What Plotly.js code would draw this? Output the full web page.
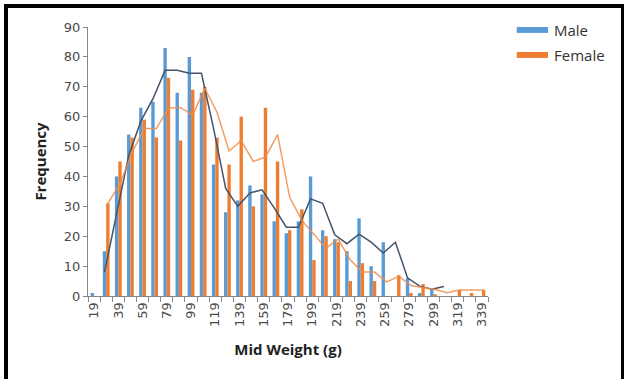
<!DOCTYPE html>
<html>
<head>
<meta charset="utf-8">
<script src="https://cdn.plot.ly/plotly-3.0.1.min.js"></script>
<style>
  html, body { margin: 0; padding: 0; background: #ffffff; }
  #chart { width: 627px; height: 379px; position: absolute; left: 0; top: 0; }
  #frame { position: absolute; left: 4px; top: 4px; width: 620px; height: 420px;
           box-sizing: border-box; border-left: 4px solid #000; border-top: 4px solid #000;
           border-right: 3px solid #000; pointer-events: none; }
</style>
</head>
<body>
<div id="chart"></div>
<div id="frame"></div>
<script>
// Mid weights (g)
const midWeights = [19,29,39,49,59,69,79,89,99,109,119,129,139,149,159,169,179,189,199,209,219,229,239,249,259,269,279,289,299,309,319,329,339];
// Frequencies
const maleFreq   = [1,15,40,54,63,65,83,68,80,68,44,28,32,37,34,25,21,25,40,22,19,15,26,10,18,null,6,1,2,null,null,null,null];
const femaleFreq = [null,31,45,53,59,53,73,52,69,70,53,44,60,30,63,45,22,29,12,20,18,5,11,5,null,7,1,4,0.6,null,2,1,2];
// Moving-average trend lines as drawn
const maleTrend   = [null,8,27.5,47,58.5,66,75.5,75.5,74.5,74.5,56,36,30,34.5,35.5,29.5,23,23,32.5,31,20.5,17.5,20.7,18,14.4,18,6.1,3.3,2.3,3.2,null,null,null];
const femaleTrend = [null,31,37.5,48,56,56,63,63,60.5,69.5,61.5,48.5,52,45,46.5,54,33,25.3,20.8,16,19,12,8,8,4.7,6.6,3.5,2.8,2.2,1.1,2,2,2];
// Axis tick labels
const tickLabels = [19,39,59,79,99,119,139,159,179,199,219,239,259,279,299,319,339];
const yTicks = [0,10,20,30,40,50,60,70,80,90];

const blue = '#5B9BD5', orange = '#ED7D31';
const step = 10, barOffset = 1.4;
const boundaries = midWeights.map(v => v - step/2).concat([midWeights[midWeights.length-1] + step/2]);

const traces = [
  { type: 'bar', name: 'Male', x: midWeights, y: maleFreq, marker: { color: blue }, showlegend: false, hoverinfo: 'x+y' },
  { type: 'bar', name: 'Female', x: midWeights, y: femaleFreq, marker: { color: orange }, showlegend: false, hoverinfo: 'x+y' },
  { type: 'scatter', mode: 'lines', x: midWeights.map(v => v - barOffset), y: maleTrend,
    line: { color: '#44546A', width: 1.5 }, connectgaps: false, showlegend: false },
  { type: 'scatter', mode: 'lines', x: midWeights.map(v => v + barOffset), y: femaleTrend,
    line: { color: 'rgba(240,140,70,0.85)', width: 1.5 }, connectgaps: false, showlegend: false },
  { type: 'scatter', mode: 'markers', x: [midWeights[0]], y: [0], xaxis: 'x2', yaxis: 'y',
    marker: { opacity: 0 }, showlegend: false, hoverinfo: 'skip' }
];

const xr = [boundaries[0], boundaries[boundaries.length-1]];
const layout = {
  width: 627, height: 379,
  margin: { l: 88, r: 139, t: 27, b: 83 },
  paper_bgcolor: '#ffffff', plot_bgcolor: '#ffffff',
  barmode: 'group', bargap: 0.44, bargroupgap: 0,
  showlegend: false,
  font: { family: 'DejaVu Sans', size: 13, color: '#4a4a4a' },
  xaxis: {
    range: xr, tickvals: tickLabels, ticktext: tickLabels.map(String),
    tickangle: -90, ticks: '', showgrid: false, zeroline: false,
    showline: true, linecolor: '#868686', linewidth: 1,
    tickfont: { family: 'DejaVu Sans', size: 13, color: '#4a4a4a' },
    title: { text: 'Mid Weight (g)', font: { family: 'Open Sans', size: 15, color: '#222', weight: 'bold' }, standoff: 18 }
  },
  xaxis2: {
    overlaying: 'x', anchor: 'y', side: 'bottom', range: xr,
    tickvals: boundaries, ticks: 'outside', ticklen: 5, tickcolor: '#868686',
    showticklabels: false, showgrid: false, zeroline: false, showline: false
  },
  yaxis: {
    range: [0, 90], tickvals: yTicks, ticks: 'outside', ticklen: 4, tickcolor: '#868686',
    showgrid: false, zeroline: false, showline: true, linecolor: '#868686', linewidth: 1,
    tickfont: { family: 'DejaVu Sans', size: 13, color: '#4a4a4a' },
    title: { text: 'Frequency', font: { family: 'Open Sans', size: 15, color: '#222', weight: 'bold' }, standoff: 13 }
  },
  shapes: [
    { type: 'rect', xref: 'paper', yref: 'paper', x0: 1.072, x1: 1.15, y0: 1.0, y1: 0.978, fillcolor: blue, line: { width: 0 } },
    { type: 'rect', xref: 'paper', yref: 'paper', x0: 1.072, x1: 1.15, y0: 0.907, y1: 0.885, fillcolor: orange, line: { width: 0 } }
  ],
  annotations: [
    { xref: 'paper', yref: 'paper', x: 1.16, y: 0.989, xanchor: 'left', yanchor: 'middle', showarrow: false,
      text: 'Male', font: { family: 'Open Sans', size: 15, color: '#333' } },
    { xref: 'paper', yref: 'paper', x: 1.16, y: 0.896, xanchor: 'left', yanchor: 'middle', showarrow: false,
      text: 'Female', font: { family: 'Open Sans', size: 15, color: '#333' } }
  ]
};

Plotly.newPlot('chart', traces, layout, { displayModeBar: false, staticPlot: true });
</script>
</body>
</html>
